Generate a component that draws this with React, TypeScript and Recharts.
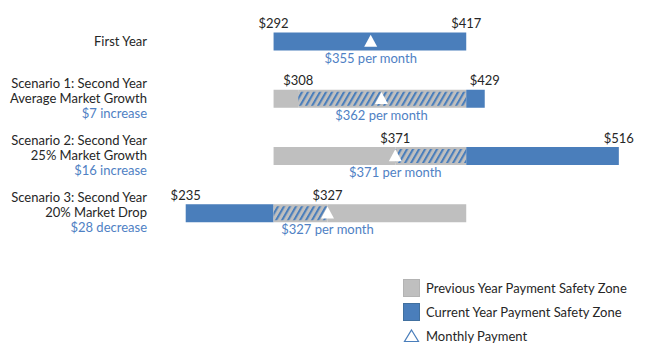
import React from 'react';
import { BarChart, Bar, XAxis, YAxis, Cell, ReferenceDot, Legend } from 'recharts';

// rows top to bottom
const rowTitles = [
  ['First Year'],
  ['Scenario 1: Second Year', 'Average Market Growth'],
  ['Scenario 2: Second Year', '25% Market Growth'],
  ['Scenario 3: Second Year', '20% Market Drop'],
];
const changeNotes = ['', '$7 increase', '$16 increase', '$28 decrease'];
const prevLow: (number | null)[] = [null, 292, 292, 292];
const prevHigh: (number | null)[] = [null, 417, 417, 417];
const curLow = [292, 308, 371, 235];
const curHigh = [417, 429, 516, 327];
const payment = [355, 362, 371, 327];
const legendItems = [
  'Previous Year Payment Safety Zone',
  'Current Year Payment Safety Zone',
  'Monthly Payment',
];

const BLUE = '#4a7ebb';
const GRAY = '#bfbfbf';
const TEXT = '#262626';
const NOTE = '#4f81c4';
const FONT = 'Lato, sans-serif';
const FS = 13;
const BAR = 18;

// split each row into stacked segments: prev only, current only, or overlap
const rows = rowTitles.map((title, i) => {
  const pts = [curLow[i], curHigh[i]];
  if (prevLow[i] != null) pts.push(prevLow[i]!, prevHigh[i]!);
  const edges = Array.from(new Set(pts)).sort((a, b) => a - b);
  const row: any = { key: title.join(' '), base: edges[0] };
  for (let s = 0; s < 3; s++) {
    const lo = edges[s];
    const hi = edges[s + 1];
    if (hi == null) {
      row['s' + s] = 0;
      row['t' + s] = 'cur';
      continue;
    }
    const inCur = lo >= curLow[i] && hi <= curHigh[i];
    const inPrev = prevLow[i] != null && lo >= prevLow[i]! && hi <= prevHigh[i]!;
    row['s' + s] = hi - lo;
    row['t' + s] = inCur && inPrev ? 'both' : inCur ? 'cur' : 'prev';
  }
  return row;
});

const fillFor = (t: string) => (t === 'both' ? 'url(#hatch)' : t === 'cur' ? BLUE : GRAY);

// overlap segments: gray box with hatch inset a little
const SegShape = (props: any) => {
  const { x, y, width, height, fill } = props;
  if (!width || width <= 0) return null;
  if (fill === 'url(#hatch)') {
    return (
      <g>
        <rect x={x} y={y} width={width} height={height} fill={GRAY} />
        <rect x={x} y={y + 2} width={width} height={height - 4} fill={fill} />
      </g>
    );
  }
  return <rect x={x} y={y} width={width} height={height} fill={fill} />;
};

const RowTick = (props: any) => {
  const { y, payload } = props;
  const i = rows.findIndex((r) => r.key === payload.value);
  if (i < 0) return null;
  const lines = rowTitles[i];
  const pitch = 15;
  const first = y - (lines.length - 1) * pitch + 4.5;
  return (
    <g fontFamily={FONT} fontSize={FS}>
      {lines.map((l, k) => (
        <text key={l} x={147} y={first + k * pitch} textAnchor="end" fill={TEXT}>
          {l}
        </text>
      ))}
      {changeNotes[i] && (
        <text x={147} y={y + 4.5 + pitch} textAnchor="end" fill={NOTE}>
          {changeNotes[i]}
        </text>
      )}
    </g>
  );
};

const PaymentMark = ({ cx, cy, value }: any) => (
  <g>
    <polygon points={`${cx},${cy - 6.5} ${cx + 6.5},${cy + 5.5} ${cx - 6.5},${cy + 5.5}`} fill="#fff" />
    <text x={cx} y={cy + BAR / 2 + 12.5} textAnchor="middle" fill={NOTE} fontFamily={FONT} fontSize={FS}>
      {`$${value} per month`}
    </text>
  </g>
);

const EdgeLabel = ({ cx, cy, value }: any) => (
  <text x={cx} y={cy - BAR / 2 - 4} textAnchor="middle" fill={TEXT} fontFamily={FONT} fontSize={FS}>
    {`$${value}`}
  </text>
);

const LegendBox = () => (
  <div style={{ fontFamily: FONT, fontSize: FS, color: TEXT }}>
    {legendItems.map((t, k) => (
      <div key={t} style={{ display: 'flex', alignItems: 'center', height: 24 }}>
        <svg width={17} height={18} style={{ marginRight: 6 }}>
          {k < 2 ? (
            <rect x={0.5} y={0.5} width={16} height={17} fill={k === 0 ? GRAY : BLUE}
              stroke={k === 0 ? '#b3b3b3' : '#41709f'} strokeWidth={1} />
          ) : (
            <polygon points="8.5,3 15.5,14.5 1.5,14.5" fill="#fff" stroke={BLUE} strokeWidth={1.2} />
          )}
        </svg>
        <span>{t}</span>
      </div>
    ))}
  </div>
);

export default function App() {
  return (
    <div style={{ position: 'absolute', left: 0, top: 0, background: '#fff' }}>
      <BarChart
        width={645}
        height={358}
        data={rows}
        layout="vertical"
        margin={{ top: 12.5, right: 20, bottom: 116.5, left: 0 }}
      >
        <defs>
          <pattern id="hatch" patternUnits="userSpaceOnUse" width="6" height="6" patternTransform="skewX(-30)">
            <rect width="6" height="6" fill={GRAY} />
            <rect width="2.4" height="6" fill={BLUE} />
          </pattern>
        </defs>
        <XAxis type="number" domain={[230, 520]} allowDataOverflow hide />
        <YAxis
          type="category"
          dataKey="key"
          width={178}
          axisLine={false}
          tickLine={false}
          interval={0}
          tick={<RowTick />}
        />
        <Bar dataKey="base" stackId="z" fill="transparent" barSize={BAR} isAnimationActive={false} />
        {[0, 1, 2].map((s) => (
          <Bar key={s} dataKey={'s' + s} stackId="z" barSize={BAR} shape={<SegShape />} isAnimationActive={false}>
            {rows.map((r, i) => (
              <Cell key={i} fill={fillFor(r['t' + s])} />
            ))}
          </Bar>
        ))}
        {rows.map((r, i) => (
          <ReferenceDot key={'lo' + i} x={curLow[i]} y={r.key} r={0}
            shape={(p: any) => <EdgeLabel {...p} value={curLow[i]} />} />
        ))}
        {rows.map((r, i) => (
          <ReferenceDot key={'hi' + i} x={curHigh[i]} y={r.key} r={0}
            shape={(p: any) => <EdgeLabel {...p} value={curHigh[i]} />} />
        ))}
        {rows.map((r, i) => (
          <ReferenceDot key={'pay' + i} x={payment[i]} y={r.key} r={0}
            shape={(p: any) => <PaymentMark {...p} value={payment[i]} />} />
        ))}
        <Legend
          layout="vertical"
          align="center"
          verticalAlign="middle"
          wrapperStyle={{ left: 403, top: 276, width: 240, height: 74 }}
          content={() => <LegendBox />}
        />
      </BarChart>
    </div>
  );
}
